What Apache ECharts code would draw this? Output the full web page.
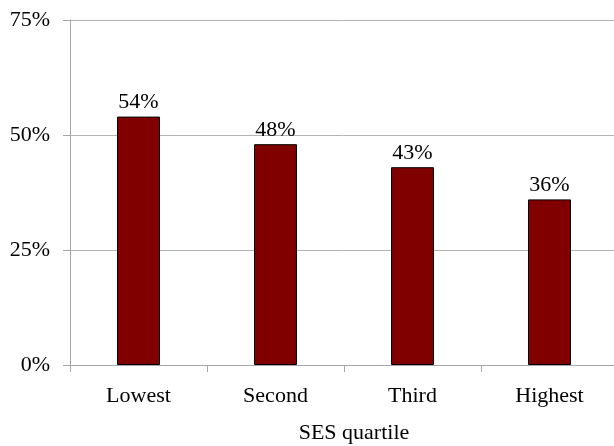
<!DOCTYPE html>
<html>
<head>
<meta charset="utf-8">
<script src="https://cdn.jsdelivr.net/npm/echarts@6/dist/echarts.min.js"></script>
<style>
  html, body { margin: 0; padding: 0; background: #fff; }
  #chart { width: 614px; height: 446px; }
</style>
</head>
<body>
<div id="chart"></div>
<script>
// SES quartile shares
const quartiles = ['Lowest', 'Second', 'Third', 'Highest'];
const shares = [54, 48, 43, 36];
const yTicks = [0, 25, 50, 75];

const font = 'Liberation Serif';
const chart = echarts.init(document.getElementById('chart'), null, { renderer: 'canvas' });

chart.setOption({
    animation: false,
    grid: { left: 70, top: 20, width: 548, bottom: 81, outerBoundsMode: 'none', containLabel: false },
    xAxis: {
        type: 'category',
        data: quartiles,
        name: 'SES quartile',
        nameLocation: 'middle',
        nameGap: 57,
        nameTextStyle: { color: '#000', fontFamily: font, fontSize: 22, padding: [0, 0, 0, 20] },
        axisLine: { lineStyle: { color: '#a6a6a6', width: 1 } },
        axisTick: { show: true, length: 7, lineStyle: { color: '#a6a6a6' } },
        axisLabel: { color: '#000', fontFamily: font, fontSize: 22, margin: 20 }
    },
    yAxis: {
        type: 'value',
        min: yTicks[0],
        max: yTicks[yTicks.length - 1],
        interval: 25,
        axisLine: { show: true, lineStyle: { color: '#a6a6a6', width: 1 } },
        axisTick: { show: true, length: 7, lineStyle: { color: '#a6a6a6' } },
        splitLine: { lineStyle: { color: '#b4b4b4', width: 1 } },
        axisLabel: { color: '#000', fontFamily: font, fontSize: 22, margin: 20, formatter: '{value}%' }
    },
    series: [{
        type: 'bar',
        data: shares,
        barWidth: 43,
        itemStyle: { color: '#800000', borderColor: '#000', borderWidth: 1 },
        label: {
            show: true,
            position: 'top',
            distance: 3,
            formatter: '{c}%',
            color: '#000',
            fontFamily: font,
            fontSize: 22
        }
    }]
});
</script>
</body>
</html>
